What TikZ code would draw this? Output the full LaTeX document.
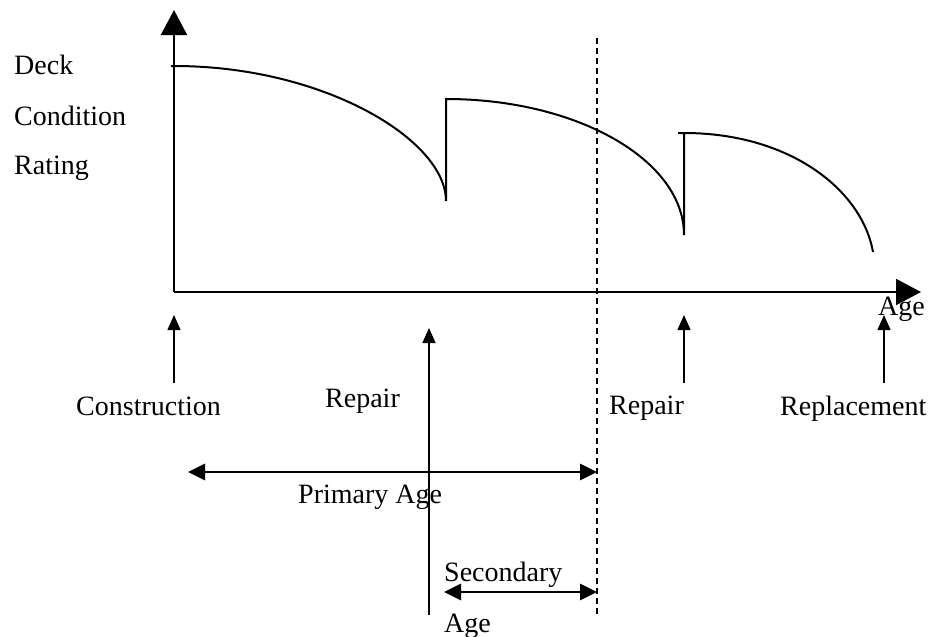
\documentclass[tikz,border=0pt]{standalone}
\usepackage{fontspec}
\setmainfont{Liberation Serif}
\usetikzlibrary{arrows.meta}
\begin{document}
\begin{tikzpicture}[x=1pt,y=-1pt,
  lbl/.style={anchor=base west,inner sep=0pt,font=\fontsize{28}{34}\selectfont},
  axis/.style={line width=2pt,-{Triangle[length=25pt,width=26pt]}},
  curve/.style={line width=2pt},
  uparrow/.style={line width=1.4pt,-{Triangle[length=15pt,width=13pt]}},
  span/.style={line width=2.8pt,{Triangle[length=17pt,width=16pt]}-{Triangle[length=17pt,width=16pt]}},
  divider/.style={line width=1.6pt,dash pattern=on 6pt off 4pt}]
\useasboundingbox (0,0) rectangle (929,637);
% axes
\coordinate (O) at (174,292);
\coordinate (Ytop) at (174,10);
\coordinate (Xend) at (921,292);
\draw[axis] (O) -- (Ytop);
\draw[axis] (O) -- (Xend);
% curves
\coordinate (c1s) at (171,66);
\coordinate (c1e) at (446,201);
\coordinate (c2s) at (446,99);
\coordinate (c2e) at (684,235);
\coordinate (c3s) at (678,133);
\coordinate (c3e) at (873,252);
\draw[curve] (c1s) -- (174,66) .. controls (324,66) and (446,140) .. (c1e) -- (c2s)
  .. controls (577,99) and (684,160) .. (c2e) -- (684,133) -- (c3s);
\draw[curve] (684,133) .. controls (790,133) and (862,190) .. (c3e);
% dashed divider
\coordinate (Dtop) at (597,38);
\coordinate (Dbot) at (597,615);
\draw[divider] (Dtop) -- (Dbot);
% labels
\node[lbl] (deck) at (14,74) {Deck};
\node[lbl] (cond) at (14,125) {Condition};
\node[lbl] (rating) at (14,174) {Rating};
\node[lbl] (agex) at (878,315) {Age};
\node[lbl] (constr) at (76,415) {Construction};
\node[lbl] (rep1) at (325,407) {Repair};
\node[lbl] (rep2) at (609,414) {Repair};
\node[lbl] (repl) at (780,415) {Replacement};
\node[lbl] (prim) at (298,503) {Primary Age};
\node[lbl] (sec) at (444,581) {Secondary};
\node[lbl] (sec2) at (444,632) {Age};
% event arrows
\coordinate (a1b) at (174,383); \coordinate (a1t) at (174,315);
\coordinate (a2b) at (429,615); \coordinate (a2t) at (429,328);
\coordinate (a3b) at (684,383); \coordinate (a3t) at (684,315);
\coordinate (a4b) at (884,383); \coordinate (a4t) at (884,315);
\draw[uparrow] (a1b) -- (a1t);
\draw[uparrow] (a2b) -- (a2t);
\draw[uparrow] (a3b) -- (a3t);
\draw[uparrow] (a4b) -- (a4t);
% spans
\coordinate (p1) at (188,472); \coordinate (p2) at (597,472);
\coordinate (s1) at (444,592); \coordinate (s2) at (597,592);
\draw[span] (p1) -- (p2);
\draw[span] (s1) -- (s2);
\end{tikzpicture}
\end{document}
